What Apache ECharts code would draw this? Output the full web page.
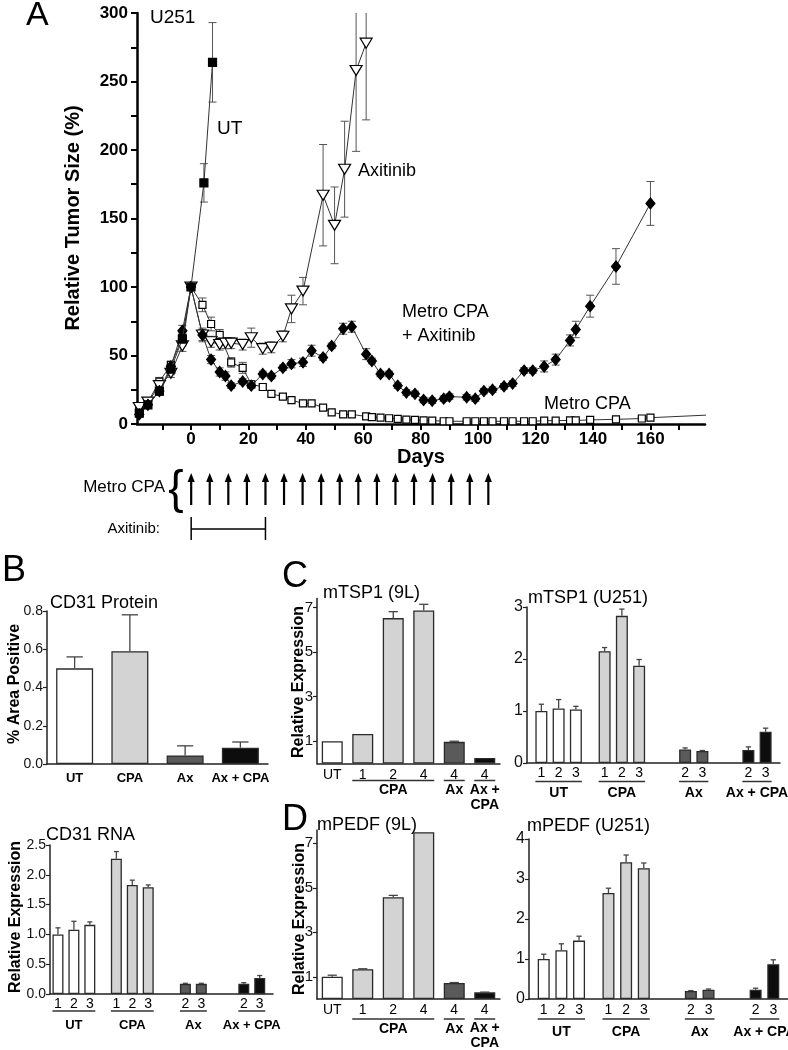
<!DOCTYPE html>
<html>
<head>
<meta charset="utf-8">
<script src="https://cdn.jsdelivr.net/npm/echarts@6.0.0/dist/echarts.min.js"></script>
<style>
html,body{margin:0;padding:0;background:#fff;}
#chart{width:788px;height:1050px;}
</style>
</head>
<body>
<div id="chart"></div>
<script>
const FONT = '"Liberation Sans", Arial, Helvetica, sans-serif';

// ===== Panel A : relative tumour size, U251 =====
const dayTicks   = [-10,0,10,20,30,40,50,60,70,80,90,100,110,120,130,140,150,160,170];
const dayLabels  = [0,20,40,60,80,100,120,140,160];
const sizeTicks  = [0,25,50,75,100,125,150,175,200,225,250,275,300];
const sizeLabels = [0,50,100,150,200,250,300];

const utDays = [-18,-15,-11,-7,-3,0,4.5,7.5];
const utVals = [8,14,24,40,62,100,176,264];
const utErr  = [2,2,3,4,5,0,14,29];

const axiDays = [-18,-15,-11,-7,-3,0,4,7,10,12,14,18,21,25,28,32,35,39,46,50,53.5,57.5,61];
const axiVals = [12,16,28,37,57,100,65,60,58,59,59,58,63,55,56,64,84,97,167,145,186,258,278];
const axiErr  = [2,2,3,3,4,0,5,4,4,4,4,4,7,4,4,4,10,10,37,28,35,59,56];

const mcDays = [-18,-15,-11,-7,-3,0,4,7,10,14,18,21,25,28,32,35,39,42,46,49,53,56,61,63,66,69,72,75,78,81,84,88,90,96,99,102,105,109,112,116,119,123,127,132,134,139,148,157,160,185];
const mcVals = [10,16,31,43,63,100,87,73,65,45,41,29,27,22,20,17.5,15,15,12,8.5,7,7,5.5,5,4.6,4.2,3.8,3.2,3,2.6,2.5,2,2,2,2,2,2,2,2,2,2,2.4,2.5,2.6,2.6,3,3.4,4,4.6,7];
const mcErr  = [2,2,3,3,5,0,5,5,4,3.5,4,2.5,2,1.5,1.5,1.5,1,1,1,1,1,1,1,1,1,1,1,1,1,1,1,1,1,1,1,1,1,1,1,1,1,1,1,1,1,1,1,1,1,0];

const comboDays = [-18,-15,-11,-7,-3,0,4,7,10,12,14,18,21,25,28,32,35,39,42,46,49,53,56,61,63,66,69,72,75,78,81,84,88,90,96,99,102,105,109,112,116,119,123,127,132,134,139,148,160];
const comboVals = [7,14,24,42,68,100,65,47,38,35,28,31,28,36.5,35,41,44,45,53.5,48.5,57,69.5,71,51,46,36.5,36.5,28,23,22,17.5,17,18.5,20,19.5,18.5,24,25,27.5,29.5,39,39,42,47,61,69,86,115,161];
const comboErr  = [2,2,3,3,4,0,4,3,3,3,2,2,2,2,2,2,3,3,4,2,2,4,4,4,2,2,2,2,2,2,2,2,2,2,2,2,2,2,2,2,2,2,4,4,4,6,8,13,16];

// treatment schematic (drawn schematically, not to the plot's day scale)
const cpaDoseDays  = [0,6,12,18,24,30,36,42,48,54,60,66,72,78,84,90,96];
const axitinibSpan = [0,24];

// ===== Panel B =====
const protGroups = ['UT','CPA','Ax','Ax + CPA'];
const protVals   = [0.50,0.59,0.045,0.085];
const protErr    = [0.06,0.19,0.05,0.03];

const rnaGroups = ['UT','UT','UT','CPA','CPA','CPA','Ax','Ax','Ax + CPA','Ax + CPA'];
const rnaSubs   = ['1','2','3','1','2','3','2','3','2','3'];
const rnaVals   = [1.00,1.08,1.16,2.27,1.83,1.79,0.17,0.17,0.17,0.27];
const rnaErr    = [0.11,0.14,0.05,0.12,0.08,0.04,0.01,0.01,0.02,0.04];

// ===== Panel C =====
const tsp9Groups = ['UT','CPA','CPA','CPA','Ax','Ax + CPA'];
const tsp9Subs   = ['UT','1','2','4','4','4'];
const tsp9Vals   = [1.00,1.32,6.52,6.86,0.97,0.25];
const tsp9Err    = [0,0,0.29,0.28,0.03,0];

const tspUGroups = ['UT','UT','UT','CPA','CPA','CPA','Ax','Ax','Ax + CPA','Ax + CPA'];
const tspUSubs   = ['1','2','3','1','2','3','2','3','2','3'];
const tspUVals   = [1.00,1.05,1.03,2.15,2.83,1.87,0.26,0.23,0.25,0.60];
const tspUErr    = [0.13,0.17,0.06,0.07,0.13,0.12,0.03,0.01,0.06,0.07];

// ===== Panel D =====
const pedf9Groups = ['UT','CPA','CPA','CPA','Ax','Ax + CPA'];
const pedf9Subs   = ['UT','1','2','4','4','4'];
const pedf9Vals   = [1.00,1.34,4.58,7.50,0.72,0.30];
const pedf9Err    = [0.07,0.02,0.08,0,0.02,0.01];

const pedfUGroups = ['UT','UT','UT','CPA','CPA','CPA','Ax','Ax','Ax + CPA','Ax + CPA'];
const pedfUSubs   = ['1','2','3','1','2','3','2','3','2','3'];
const pedfUVals   = [1.00,1.22,1.46,2.65,3.42,3.27,0.20,0.23,0.23,0.87];
const pedfUErr    = [0.12,0.16,0.11,0.12,0.18,0.13,0.01,0.02,0.04,0.11];

// ---------------------------------------------------------------
const chart = echarts.init(document.getElementById('chart'), null, {renderer:'canvas'});

const colorOf = g => ({'UT':'#ffffff','CPA':'#d3d3d3','Ax':'#5a5a5a','Ax + CPA':'#0d0d0d'})[g];

function ctext(text, x, y, size, bold, align, vAlign) {
  align = align || 'center'; vAlign = vAlign || 'middle';
  return {type:'text', x:x, y:y, silent:true,
    style:{text:text, fontSize:size, fontFamily:FONT, fontWeight:bold?'bold':'normal', fill:'#000',
      textAlign:align, textVerticalAlign:vAlign, align:align, verticalAlign:vAlign, lineHeight:size+1}};
}
function gtext(text, x, y, size, opts) {
  opts = opts || {};
  const align = opts.align || 'left';
  return {type:'text', x:x, y:y, rotation:opts.rot||0, silent:true, z:20,
    style:{text:text, fontSize:size, fontFamily:FONT, fontWeight:opts.bold?'bold':'normal', fill:'#000',
      textAlign:align, textVerticalAlign:'middle', align:align, verticalAlign:'middle'}};
}

function groupedPos(groups, starts, step) {
  const cnt = {};
  return groups.map(g => { const k = cnt[g] || 0; cnt[g] = k + 1; return starts[g] + k * step + 0.5; });
}
function indexPos(groups) { return groups.map((g, i) => i + 0.5); }
function groupSpans(groups, pos) {
  const out = [];
  groups.forEach((g, i) => {
    let s = out.find(o => o.g === g);
    if (!s) { s = {g:g, from:pos[i], to:pos[i]}; out.push(s); }
    s.from = Math.min(s.from, pos[i]); s.to = Math.max(s.to, pos[i]);
  });
  return out;
}

const grids = [];
const xAxes = [];
const yAxes = [];
const series = [];

// ---------- Panel A ----------
const A_MIN = -18.8, A_MAX = 179;
grids.push({left:137, top:13, width:568, height:411});
xAxes.push({gridIndex:0, type:'value', min:A_MIN, max:A_MAX,
  axisLine:{show:true, onZero:false, lineStyle:{color:'#000', width:2.5}},
  axisTick:{show:true, length:6, customValues:dayTicks, lineStyle:{color:'#000', width:2}},
  axisLabel:{customValues:dayLabels, fontSize:17, fontWeight:'bold', color:'#000', margin:7, fontFamily:FONT},
  splitLine:{show:false}});
yAxes.push({gridIndex:0, type:'value', min:0, max:300,
  axisLine:{show:true, onZero:false, lineStyle:{color:'#000', width:2.5}},
  axisTick:{show:true, length:6, customValues:sizeTicks, lineStyle:{color:'#000', width:2}},
  axisLabel:{customValues:sizeLabels, fontSize:17, fontWeight:'bold', color:'#000', margin:9, fontFamily:FONT},
  splitLine:{show:false}});

function errA(days, vals, errs) {
  return {type:'custom', xAxisIndex:0, yAxisIndex:0, silent:true, z:1,
    data: days.map((d, i) => [d, vals[i], errs[i]]).filter(r => r[2] > 0 && r[0] < A_MAX),
    renderItem: function (params, api) {
      const x = api.value(0), v = api.value(1), e = api.value(2);
      const cs = params.coordSys;
      const hi = api.coord([x, v + e]), lo = api.coord([x, v - e]);
      const top = Math.max(hi[1], cs.y);
      const st = {stroke:'#555', lineWidth:1};
      const kids = [{type:'line', shape:{x1:hi[0], y1:top, x2:lo[0], y2:lo[1]}, style:st}];
      if (hi[1] >= cs.y) kids.push({type:'line', shape:{x1:hi[0]-4, y1:hi[1], x2:hi[0]+4, y2:hi[1]}, style:st});
      kids.push({type:'line', shape:{x1:lo[0]-4, y1:lo[1], x2:lo[0]+4, y2:lo[1]}, style:st});
      return {type:'group', children:kids};
    }};
}
function lineA(days, vals, symbol, size, fill, z, extra) {
  return Object.assign({type:'line', xAxisIndex:0, yAxisIndex:0, silent:true, z:z, clip:true,
    data: days.map((d, i) => [d, vals[i]]),
    symbol:symbol, symbolSize:size, showSymbol:true, showAllSymbol:true,
    lineStyle:{color:'#333', width:1},
    itemStyle:{color:fill, borderColor:'#000', borderWidth:1.2}}, extra || {});
}
series.push(errA(mcDays, mcVals, mcErr));
series.push(errA(axiDays, axiVals, axiErr));
series.push(errA(comboDays, comboVals, comboErr));
series.push(errA(utDays, utVals, utErr));
const mcLine = lineA(mcDays, mcVals, 'rect', 7, '#fff', 2);
mcLine.data = mcLine.data.map(p => p[0] > A_MAX ? {value:p, symbol:'none'} : p);
series.push(mcLine);
series.push(lineA(axiDays, axiVals, 'triangle', [12, 10], '#fff', 3, {symbolRotate:180}));
series.push(lineA(comboDays, comboVals, 'diamond', [9, 11], '#000', 4));
series.push(lineA(utDays, utVals, 'rect', 8, '#000', 5));

// ---------- treatment schematic ----------
grids.push({left:137, top:460, width:568, height:90});
xAxes.push({gridIndex:1, type:'value', min:-17.5, max:166, show:false});
yAxes.push({gridIndex:1, type:'value', min:0, max:1, show:false});
series.push({type:'custom', xAxisIndex:1, yAxisIndex:1, silent:true,
  data: cpaDoseDays.map(d => [d, 0]),
  renderItem: function (params, api) {
    const d = api.value(0);
    const tip = api.coord([d, 0.856]), bot = api.coord([d, 0.5]);
    return {type:'group', children:[
      {type:'line', shape:{x1:bot[0], y1:bot[1], x2:tip[0], y2:tip[1]+6}, style:{stroke:'#000', lineWidth:2.2}},
      {type:'polygon', shape:{points:[[tip[0], tip[1]], [tip[0]-3.6, tip[1]+9], [tip[0]+3.6, tip[1]+9]]}, style:{fill:'#000'}}
    ]};
  }});
series.push({type:'custom', xAxisIndex:1, yAxisIndex:1, silent:true,
  data: [[axitinibSpan[0], axitinibSpan[1], 0]], encode:{x:[0,1], y:2},
  renderItem: function (params, api) {
    const a = api.coord([api.value(0), 0.233]), b = api.coord([api.value(1), 0.233]);
    const up = api.coord([0, 0.367])[1], dn = api.coord([0, 0.111])[1];
    const st = {stroke:'#000', lineWidth:1.5};
    return {type:'group', children:[
      {type:'line', shape:{x1:a[0], y1:a[1], x2:b[0], y2:b[1]}, style:st},
      {type:'line', shape:{x1:a[0], y1:up, x2:a[0], y2:dn}, style:st},
      {type:'line', shape:{x1:b[0], y1:up, x2:b[0], y2:dn}, style:st}
    ]};
  }});

// ---------- bar panels ----------
function barPanel(p) {
  const ai = grids.length;
  grids.push(p.grid);
  xAxes.push({gridIndex:ai, type:'value', min:0, max:p.slots,
    axisLine:{show:true, onZero:false, lineStyle:{color:'#222', width:1.5}},
    axisTick:{show:false}, axisLabel:{show:false}, splitLine:{show:false}});
  const ya = {gridIndex:ai, type:'value', min:0, max:p.yMax,
    axisLine:{show:true, onZero:false, lineStyle:{color:'#222', width:1.5}},
    axisTick:{show:true, length:4, lineStyle:{color:'#222', width:1.2}},
    axisLabel:{fontSize:p.tickFont || 14, color:'#111', margin:4, fontFamily:FONT},
    splitLine:{show:false}};
  if (p.yTicks) { ya.axisTick.customValues = p.yTicks; ya.axisLabel.customValues = p.yTicks; }
  else { ya.interval = p.yInterval; }
  if (p.fmt) ya.axisLabel.formatter = p.fmt;
  yAxes.push(ya);

  series.push({type:'bar', xAxisIndex:ai, yAxisIndex:ai, barWidth:p.bw, silent:true, z:2,
    data: p.vals.map((v, i) => ({value:[p.pos[i], v], itemStyle:{color:colorOf(p.groups[i])}})),
    itemStyle:{borderColor:'#2b2b2b', borderWidth:1.3}});
  series.push({type:'custom', xAxisIndex:ai, yAxisIndex:ai, silent:true, z:3,
    data: p.vals.map((v, i) => [p.pos[i], v, p.errs[i]]),
    renderItem: function (params, api) {
      const x = api.value(0), v = api.value(1), e = api.value(2);
      if (!(e > 0)) return {type:'group', children:[]};
      const a = api.coord([x, v]), b = api.coord([x, v + e]);
      const h = Math.max(2.5, p.bw * 0.22);
      const st = {stroke:'#444', lineWidth:1.3};
      return {type:'group', children:[
        {type:'line', shape:{x1:a[0], y1:a[1], x2:b[0], y2:b[1]}, style:st},
        {type:'line', shape:{x1:b[0]-h, y1:b[1], x2:b[0]+h, y2:b[1]}, style:st}
      ]};
    }});
  if (p.subs) {
    series.push({type:'custom', xAxisIndex:ai, yAxisIndex:ai, silent:true, z:4,
      data: p.pos.map(x => [x, 0]),
      renderItem: function (params, api) {
        const c = api.coord([api.value(0), 0]);
        return ctext(p.subs[params.dataIndex], c[0], c[1] + p.subDy, p.subFont || 14, false);
      }});
  }
  const spans = groupSpans(p.groups, p.pos);
  series.push({type:'custom', xAxisIndex:ai, yAxisIndex:ai, silent:true, z:4,
    data: spans.map(s => [s.from, s.to, 0]), encode:{x:[0,1], y:2},
    renderItem: function (params, api) {
      const s = spans[params.dataIndex];
      const a = api.coord([api.value(0), 0]), b = api.coord([api.value(1), 0]);
      const kids = [];
      const label = p.groupLabel ? p.groupLabel(s.g) : s.g;
      if (label === null) return {type:'group', children:[]};
      if (p.lineDy) {
        kids.push({type:'line', shape:{x1:a[0] - p.bw/2, y1:a[1] + p.lineDy, x2:b[0] + p.bw/2, y2:a[1] + p.lineDy},
          style:{stroke:'#333', lineWidth:1.5}});
      }
      if (label.indexOf('\n') >= 0) {
        kids.push(ctext(label, (a[0]+b[0])/2, a[1] + p.groupDy - 8, p.groupFont || 14, true, 'center', 'top'));
      } else {
        kids.push(ctext(label, (a[0]+b[0])/2, a[1] + p.groupDy, p.groupFont || 14, true));
      }
      return {type:'group', children:kids};
    }});
}

const fmt1 = v => v.toFixed(1);
const nineLabel = g => ({'UT':null, 'CPA':'CPA', 'Ax':'Ax', 'Ax + CPA':'Ax +\nCPA'})[g];
const u251Starts = {'UT':2, 'CPA':13, 'Ax':27, 'Ax + CPA':38};

// B1 CD31 protein
barPanel({grid:{left:47, top:611, width:221, height:153}, slots:4, yMax:0.8, yInterval:0.2, fmt:fmt1,
  vals:protVals, errs:protErr, groups:protGroups, pos:indexPos(protGroups), bw:37,
  groupDy:14, groupFont:13, lineDy:0});
// B2 CD31 RNA
barPanel({grid:{left:50, top:845, width:223, height:149}, slots:42, yMax:2.5, yInterval:0.5, fmt:fmt1,
  vals:rnaVals, errs:rnaErr, groups:rnaGroups, subs:rnaSubs,
  pos:groupedPos(rnaGroups, {'UT':1, 'CPA':12, 'Ax':25, 'Ax + CPA':36}, 3), bw:11,
  subDy:10, lineDy:17, groupDy:31, groupFont:13});
// C1 mTSP1 9L
barPanel({grid:{left:317, top:598.5, width:183, height:165}, slots:6, yMax:7.4, yTicks:[1,3,5,7],
  vals:tsp9Vals, errs:tsp9Err, groups:tsp9Groups, subs:tsp9Subs, pos:indexPos(tsp9Groups), bw:21,
  subDy:11.5, lineDy:17, groupDy:27, groupLabel:nineLabel, tickFont:15});
// C2 mTSP1 U251
barPanel({grid:{left:527, top:607, width:253, height:156}, slots:44, yMax:3, yInterval:1,
  vals:tspUVals, errs:tspUErr, groups:tspUGroups, subs:tspUSubs,
  pos:groupedPos(tspUGroups, u251Starts, 3), bw:12, subDy:10, lineDy:18.5, groupDy:30, tickFont:16});
// D1 mPEDF 9L
barPanel({grid:{left:317, top:830, width:183, height:169}, slots:6, yMax:7.6, yTicks:[1,3,5,7],
  vals:pedf9Vals, errs:pedf9Err, groups:pedf9Groups, subs:pedf9Subs, pos:indexPos(pedf9Groups), bw:21,
  subDy:11, lineDy:20, groupDy:30, groupLabel:nineLabel, tickFont:15});
// D2 mPEDF U251
barPanel({grid:{left:529, top:839, width:259, height:160}, slots:44, yMax:4, yInterval:1,
  vals:pedfUVals, errs:pedfUErr, groups:pedfUGroups, subs:pedfUSubs,
  pos:groupedPos(pedfUGroups, u251Starts, 3), bw:12, subDy:11, lineDy:20, groupDy:33, tickFont:16});

grids.forEach(g => { g.containLabel = false; g.outerBoundsMode = 'none'; });

const graphic = [
  // panel A
  gtext('A', 26, 16, 34),
  gtext('U251', 150, 18, 19),
  gtext('UT', 217, 129, 19),
  gtext('Axitinib', 358, 171, 18),
  gtext('Metro CPA', 402, 312, 18),
  gtext('+ Axitinib', 402, 336, 18),
  gtext('Metro CPA', 544, 404, 18),
  gtext('Days', 421, 457, 20, {bold:true, align:'center'}),
  gtext('Relative Tumor Size (%)', 73, 218, 20, {bold:true, align:'center', rot:Math.PI/2}),
  gtext('Metro CPA', 165, 487, 17, {align:'right'}),
  gtext('{', 176, 490, 46, {align:'center'}),
  gtext('Axitinib:', 160, 529, 15, {align:'right'}),
  // panel B
  gtext('B', 2, 571, 36),
  gtext('CD31 Protein', 50, 603, 18),
  gtext('% Area Positive', 15, 684, 16, {bold:true, align:'center', rot:Math.PI/2}),
  gtext('CD31 RNA', 46, 835, 18),
  gtext('Relative Expression', 16, 917, 16, {bold:true, align:'center', rot:Math.PI/2}),
  // panel C
  gtext('C', 282, 577, 36),
  gtext('mTSP1 (9L)', 323, 593, 18),
  gtext('Relative Expression', 299, 682, 16, {bold:true, align:'center', rot:Math.PI/2}),
  gtext('mTSP1 (U251)', 528, 598, 18),
  // panel D
  gtext('D', 282, 820, 36),
  gtext('mPEDF (9L)', 317, 825, 18),
  gtext('Relative Expression', 300, 919, 16, {bold:true, align:'center', rot:Math.PI/2}),
  gtext('mPEDF (U251)', 527, 826, 18)
];

chart.setOption({
  animation:false,
  backgroundColor:'#ffffff',
  textStyle:{fontFamily:FONT, color:'#000'},
  grid:grids, xAxis:xAxes, yAxis:yAxes, series:series, graphic:graphic
});
</script>
</body>
</html>
